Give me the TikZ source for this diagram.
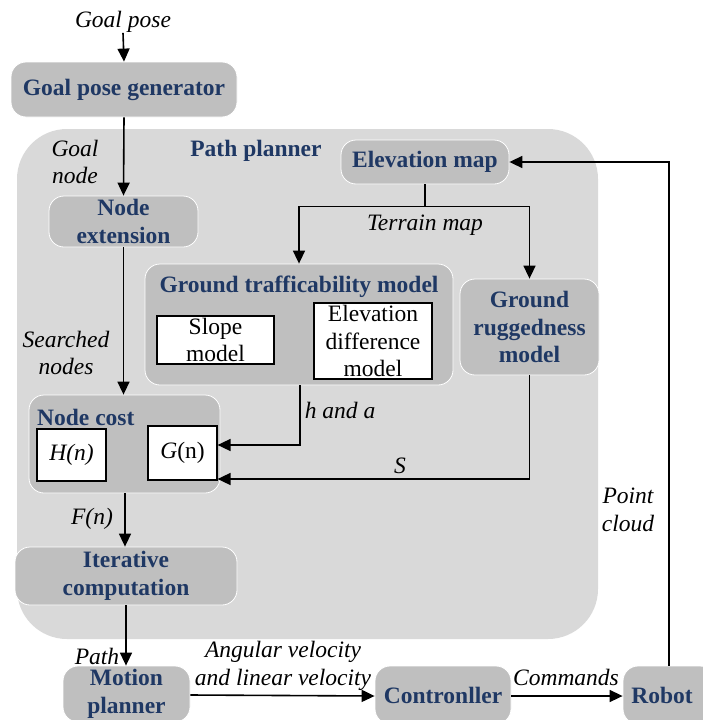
\documentclass[tikz,border=0pt]{standalone}
\usepackage{fontspec}
\setmainfont{Liberation Serif}
\newfontfamily\tnr{Liberation Serif}
\usetikzlibrary{arrows.meta,calc}
\definecolor{darkbox}{HTML}{BFBFBF}
\definecolor{lightbg}{HTML}{D9D9D9}
\definecolor{navy}{HTML}{1F3864}
\tikzset{
  txt/.style={font=\tnr\fontsize{23.5}{27.5}\selectfont, inner sep=0pt},
  lbl/.style={txt, font=\tnr\fontsize{23.5}{27.5}\selectfont\itshape, align=center},
  btxt/.style={txt, font=\tnr\fontsize{23.5}{27.5}\selectfont\bfseries, text=navy, align=center},
  gbox/.style={btxt, draw=white, line width=0.8pt, fill=darkbox, rounded corners=15pt},
  wbox/.style={txt, draw=black, line width=1.2pt, fill=white, align=center},
  arr/.style={line width=1.6pt, -{Triangle[length=13pt,width=12pt]}},
  ln/.style={line width=1.6pt},
}
\begin{document}
\begin{tikzpicture}[x=1pt,y=-1pt]
\useasboundingbox (0,0) rectangle (703,720);
\clip (0,0) rectangle (703,720);
% path planner background
\node[draw=none, fill=lightbg, rounded corners=50pt, minimum width=581pt, minimum height=510pt, inner sep=0pt] (planner) at (307.5,384) {};
\node[btxt] (pptitle) at (256,151) {Path planner};

\node[lbl] (gp) at (123,22) {Goal pose};
\node[gbox, minimum width=226pt, minimum height=55pt] (gen) at (124,89.5) {Goal pose generator};
\node[lbl] (goalnode) at (75,162) {Goal\\node};
\node[gbox, minimum width=149pt, minimum height=51pt] (ext) at (123.5,221.5) {Node\\extension};
\node[gbox, minimum width=168pt, minimum height=44pt] (elev) at (425,162) {Elevation map};
\node[lbl] (terrain) at (425,225) {Terrain map};

\node[gbox, minimum width=308pt, minimum height=121pt] (traf) at (299,324.5) {};
\node[btxt] (traftitle) at (299,287) {Ground trafficability model};
\node[wbox, minimum width=117pt, minimum height=48pt] (slope) at (215.5,340) {Slope\\model};
\node[wbox, minimum width=118pt, minimum height=76pt] (ediff) at (373,341) {Elevation\\difference\\model};
\node[gbox, minimum width=139pt, minimum height=96pt] (rug) at (529.5,327) {Ground\\ruggedness\\model};

\node[lbl] (searched) at (66,353) {Searched\\nodes};
\node[gbox, minimum width=191pt, minimum height=98pt] (cost) at (124.5,444) {};
\node[btxt, anchor=west] (costtitle) at (37,417) {Node cost};
\node[wbox, minimum width=69pt, minimum height=52pt] (H) at (71.5,455) {\itshape H(n)};
\node[wbox, minimum width=69pt, minimum height=54pt] (G) at (182.5,453) {\itshape G\upshape(n)};
\node[lbl] (handa) at (340,410) {h and a};
\node[lbl] (S) at (400,466) {S};
\node[lbl] (Fn) at (92,519) {F(n)};
\node[gbox, minimum width=222pt, minimum height=58pt] (iter) at (126,576) {Iterative\\computation};

\node[lbl] (path) at (97,656) {Path};
\node[gbox, minimum width=127pt, minimum height=56pt] (motion) at (126.5,694) {Motion\\planner};
\node[lbl] (vel) at (283,666) {Angular velocity\\and linear velocity};
\node[gbox, minimum width=136pt, minimum height=58pt] (ctrl) at (443,695) {Contronller};
\node[lbl] (cmd) at (566,677) {Commands};
\node[gbox, minimum width=92pt, minimum height=58pt] (robot) at (669,695) {\hspace*{-14pt}Robot};
\node[lbl] (pc) at (628,510) {Point\\cloud};

% connectors
\draw[arr] (gp.south) -- (gen.north);
\draw[arr] (gen.south) -- (ext.north);
\draw[arr] (ext.south) -- (ext.south |- cost.north);
\draw[ln] (elev.south) -- ++(0,22) coordinate (split);
\draw[arr] (split) -| (traf.north);
\draw[arr] (split) -| (rug.north);
\draw[arr] ([xshift=1pt]traf.south) |- ([yshift=8pt]G.east);
\draw[arr] (rug.south) |- ([yshift=-26pt]G.east);
\draw[arr] ([xshift=0.5pt]cost.south) -- ([xshift=0.5pt]cost.south |- iter.north);
\draw[arr] (iter.south) -- (iter.south |- motion.north);
\draw[arr] ([yshift=-1pt]motion.east) -- ([yshift=-1pt]ctrl.west);
\draw[arr] ([yshift=-1pt]ctrl.east) -- ([yshift=-1pt]robot.west);
\draw[arr] (robot.north) |- (elev.east);
\end{tikzpicture}
\end{document}
